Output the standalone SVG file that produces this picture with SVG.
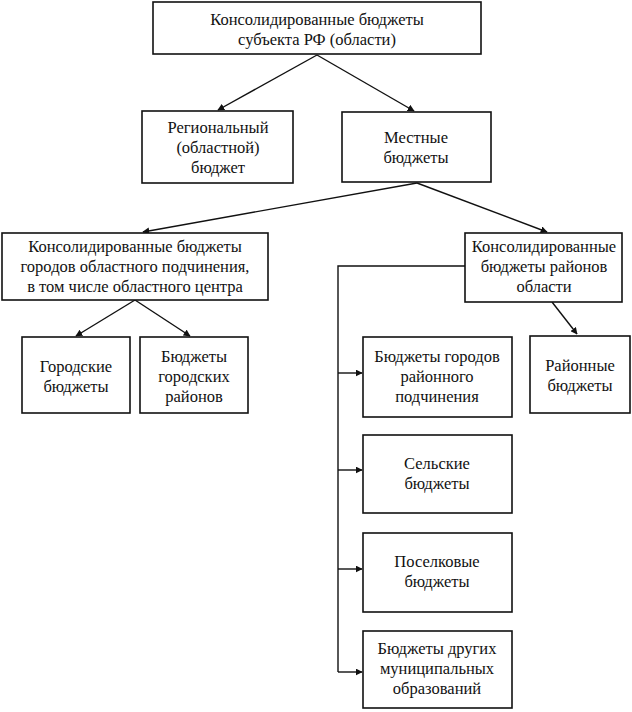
<svg xmlns="http://www.w3.org/2000/svg" width="632" height="712" viewBox="0 0 632 712">
<style>
rect{fill:#fff;stroke:#111;stroke-width:1.6}
text{fill:#111;text-anchor:middle}
.c path{fill:none;stroke:#111;stroke-width:1.4}
</style>
<defs>
<marker id="a" viewBox="0 0 10 10" refX="9" refY="5" markerWidth="7" markerHeight="7" orient="auto" markerUnits="userSpaceOnUse">
<path d="M0,0 L10,5 L0,10 z" fill="#111"/>
</marker>
</defs>
<rect width="632" height="712" style="fill:#fff;stroke:none"/>
<g class="c" id="connectors">
<path d="M317,55 L218,110" marker-end="url(#a)"/>
<path d="M317,55 L414,111" marker-end="url(#a)"/>
<path d="M417,183 L143,232" marker-end="url(#a)"/>
<path d="M417,183 L547,232" marker-end="url(#a)"/>
<path d="M135,300 L76,336" marker-end="url(#a)"/>
<path d="M135,300 L190,336" marker-end="url(#a)"/>
<path d="M552,302 L577,334" marker-end="url(#a)"/>
<path d="M465,266 L338,266 L338,672"/>
<path d="M338,373 L362,373" marker-end="url(#a)"/>
<path d="M338,470 L362,470" marker-end="url(#a)"/>
<path d="M338,569 L362,569" marker-end="url(#a)"/>
<path d="M338,672 L362,672" marker-end="url(#a)"/>
</g>
<g font-family="Liberation Serif, serif" font-size="16.5">
<g id="n1"><rect x="153" y="2" width="328" height="52"/>
<text x="317" y="25">Консолидированные бюджеты</text><text x="317" y="45">субъекта РФ (области)</text></g>
<g id="n2"><rect x="142" y="111" width="151" height="72"/>
<text x="218" y="133">Региональный</text><text x="218" y="153">(областной)</text><text x="218" y="173">бюджет</text></g>
<g id="n3"><rect x="342" y="112" width="149" height="70"/>
<text x="416" y="143">Местные</text><text x="416" y="163">бюджеты</text></g>
<g id="n4"><rect x="2" y="233" width="266" height="67"/>
<text x="135" y="252">Консолидированные бюджеты</text><text x="135" y="272">городов областного подчинения,</text><text x="135" y="292">в том числе областного центра</text></g>
<g id="n5"><rect x="465" y="233" width="157" height="69"/>
<text x="544" y="252">Консолидированные</text><text x="544" y="272">бюджеты районов</text><text x="544" y="292">области</text></g>
<g id="n6"><rect x="22" y="337" width="108" height="76"/>
<text x="76" y="372">Городские</text><text x="76" y="392">бюджеты</text></g>
<g id="n7"><rect x="140" y="337" width="108" height="76"/>
<text x="194" y="362">Бюджеты</text><text x="194" y="382">городских</text><text x="194" y="402">районов</text></g>
<g id="n8"><rect x="363" y="337" width="149" height="80"/>
<text x="437" y="362">Бюджеты городов</text><text x="437" y="382">районного</text><text x="437" y="402">подчинения</text></g>
<g id="n9"><rect x="530" y="336" width="100" height="77"/>
<text x="580" y="371">Районные</text><text x="580" y="391">бюджеты</text></g>
<g id="n10"><rect x="363" y="435" width="149" height="78"/>
<text x="437" y="469">Сельские</text><text x="437" y="489">бюджеты</text></g>
<g id="n11"><rect x="363" y="533" width="149" height="79"/>
<text x="437" y="567">Поселковые</text><text x="437" y="587">бюджеты</text></g>
<g id="n12"><rect x="363" y="631" width="149" height="77"/>
<text x="437" y="654">Бюджеты других</text><text x="437" y="674">муниципальных</text><text x="437" y="694">образований</text></g>
</g>
</svg>
